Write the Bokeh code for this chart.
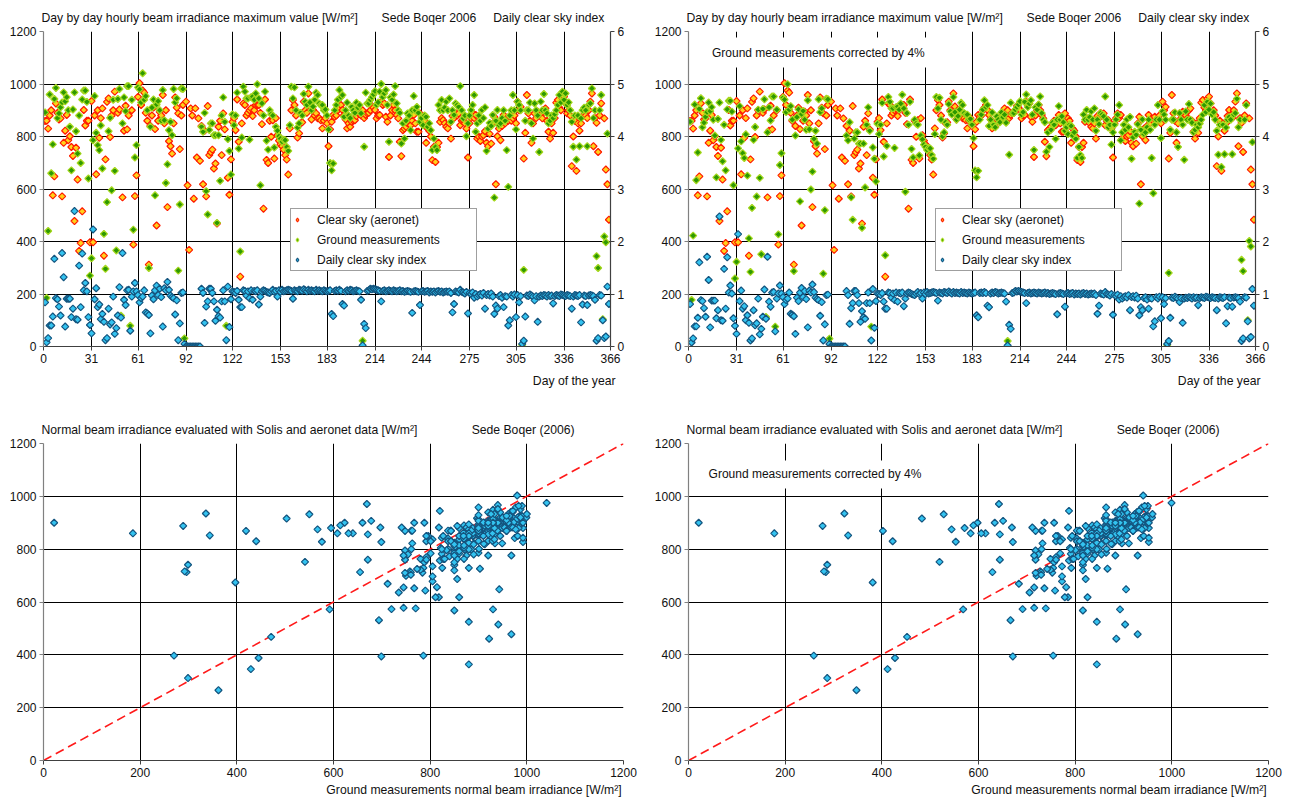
import numpy as np
from bokeh.plotting import figure
from bokeh.models import Range1d, LinearAxis, FixedTicker, Legend, LegendItem, Label
from bokeh.layouts import column, row
from bokeh.embed import file_html
from bokeh.resources import INLINE

nan = float("nan")

# ---------------------------------------------------------------- data
day_ticks = [0, 31, 61, 92, 122, 153, 183, 214, 244, 275, 305, 336, 366]
irr_ticks = [0, 200, 400, 600, 800, 1000, 1200]
index_ticks = [0, 1, 2, 3, 4, 5, 6]
days = list(range(1, 366))
correction = 0.04  # ground measurements corrected by 4 %

# hourly maximum of the modelled clear-sky beam irradiance (Solis + aeronet), W/m2
clear_sky_aeronet = [
    859, 860, 830, 880, 900, 576, 648, 926, 890, 865,
    869, 572, 776, 822, 882, 786, 801, 760, 726, 478,
    757, 636, 364, 394, 515, 901, 842, 860, 860, 397,
    935, 397, 880, 656, 900, 795, 870, 907, 346, 713,
    932, 945, 798, 880, 900, 971, nan, 890, 903, nan,
    568, 822, 917, 827, 880, nan, 900, 388, 573, 652,
    951, 1003, 920, 975, 967, 890, 860, 312, 840, 880,
    910, 828, 461, 860, 894, 880, 958, 850, 900, 531,
    782, 763, 735, 850, 949, 910, 888, 752, 880, 920,
    nan, 933, 614, 368, 907, 880, 563, 907, 720, 869,
    707, 840, 618, 822, 572, 916, 729, 740, 750, 678,
    697, 468, 837, 860, 729, 888, 827, nan, 643, 578,
    713, 856, 870, 824, 941, 780, 266, 850, 926, 920,
    880, 890, 900, 907, 878, 900, 920, 920, 920, 890,
    847, 525, 941, 711, 699, 860, 799, 862, 716, 870,
    805, 784, 770, 763, 750, 729, 712, 655, 831, 900,
    939, 920, 880, 796, 812, 850, 854, 933, 900, 890,
    964, 914, 865, 901, 880, 888, 869, 870, 862, 831,
    860, 870, 850, 763, 827, 856, 882, 875, 880, 900,
    910, 920, 901, 882, 865, 831, 850, 837, 856, 860,
    862, 878, 890, 907, 880, 900, 870, 882, 888, 890,
    900, 916, 910, 901, 869, 880, 882, 933, 920, 926,
    875, 856, 722, 880, 900, 920, 900, 882, 869, 780,
    725, 824, 830, 837, 850, 860, 843, 860, 882, 850,
    818, 818, 888, 850, 869, 860, 776, 830, 822, 800,
    710, 760, 703, 760, 776, 856, 870, 862, 850, 837,
    831, 850, 792, 878, 870, 890, 880, 888, 843, 860,
    862, 850, 830, 720, 850, 870, 888, 870, 882, 792,
    799, 783, 800, 805, 820, 776, 763, 810, 773, 850,
    875, 618, 801, 830, 786, 840, 882, 850, 869, 860,
    875, 860, 869, 880, 850, 933, 900, 913, nan, 716,
    814, 958, 888, 860, 776, 850, 888, 870, 894, 882,
    880, 869, 900, 907, 860, 818, 792, 850, 814, 870,
    929, 939, 910, 900, 945, 952, 926, 888, 900, 880,
    687, 800, 860, 669, 850, 822, 850, 878, 901, 880,
    870, 900, 933, 964, 763, 870, 852, 741, 880, 926,
    nan, 869, 674, 618, 483,
]

# hourly maximum of the measured beam irradiance, W/m2
ground_measured = [
    892, 185, 440, 960, 660, 770, 943, 985, 870, 888,
    911, 930, 968, 934, 950, 900, 837, 671, 903, 968,
    820, 735, 880, 699, 941, 975, 975, 932, 640, 270,
    336, 786, 954, 814, 767, 748, 842, 678, 429, 296,
    550, 820, 871, 595, 940, 669, 366, 943, 981, 117,
    850, 949, 897, 992, 992, 79, 940, 445, 720, 767,
    987, 980, 930, 1041, 940, 954, 900, 299, 837, 910,
    941, 576, 922, 935, 900, 860, 977, 862, 623, 694,
    824, 856, 805, 981, 930, 945, 289, 541, 983, 981,
    31, nan, nan, nan, nan, nan, nan, nan, nan, nan,
    nan, 837, 818, 890, 592, 503, 825, 850, 850, 805,
    805, 471, 805, 631, 880, 949, 856, 79, 790, 745,
    655, 884, 843, 880, 967, 754, 362, 796, 990, 971,
    945, 945, 788, 950, 952, 940, 964, 999, 945, 614,
    926, 880, 971, 784, 750, 900, 885, 880, 758, 837,
    822, 801, 792, 780, 788, 786, 760, 745, 843, 990,
    945, 987, 900, 834, 850, 890, 880, 962, 933, 920,
    990, 930, 900, 914, 940, 967, 958, 926, 920, 920,
    900, 903, 880, 827, 699, 671, 697, 900, 920, 940,
    977, 950, 958, 875, 900, 929, 880, 870, 913, 900,
    890, 929, 910, 920, 888, 22, 761, 967, 926, 926,
    940, 950, 960, 973, 920, 930, 971, 1000, 950, 964,
    977, 920, 780, 949, 940, 960, 992, 926, 900, 890,
    773, 850, 792, 860, 888, 880, 824, 900, 954, 900,
    913, 890, 856, 870, 843, 880, 875, 837, 850, 824,
    748, 792, 760, 748, 920, 900, 939, 900, 910, 933,
    900, 945, 856, 900, 882, 926, 920, 913, 992, 900,
    869, 880, 801, 850, 880, 901, 920, 958, 818, 850,
    880, 860, 901, 870, 911, 745, 830, 852, 840, 882,
    567, 860, 901, 843, 850, 870, 900, 860, 748, 608,
    880, 900, 958, 900, 827, 933, 920, 900, 6, 292,
    860, 900, 900, 929, 850, 792, 926, 900, 880, 741,
    933, 900, 962, 900, 888, 850, 860, 880, 870, 885,
    900, 920, 958, 930, 971, 940, 964, 920, 930, 900,
    856, 761, 880, 712, 880, 763, 869, 900, 910, 900,
    763, 920, 926, 983, 870, 900, 344, 299, 900, 958,
    104, 419, 397, 811, nan,
]

# daily clear sky index (right axis)
clear_sky_index = [
    0.84, 0.08, 0.16, 0.40, 0.40, 0.57, 1.67, 0.92, 0.90, 0.76,
    0.59, 1.78, 1.32, 0.38, 0.91, 0.91, 0.91, 0.56, 0.72, 2.58,
    0.52, 0.51, 1.54, 0.75, 1.77, 1.07, 1.21, 1.05, 0.56, 0.41,
    0.25, 2.23, 0.90, 1.11, 0.75, 0.80, 0.52, 0.62, 0.47, 0.12,
    0.16, 0.72, 0.42, 0.46, 0.95, 0.24, 0.35, 0.59, 1.13, 0.55,
    1.78, 0.89, 0.79, 1.07, 1.08, 0.30, 0.95, 1.05, 1.21, 1.05,
    0.98, 0.84, 0.92, 0.95, 1.07, 0.65, 0.63, 0.60, 0.25, 0.97,
    0.90, 1.07, 1.16, 0.98, 1.10, 0.94, 0.38, 1.11, 1.07, 1.23,
    1.08, 0.97, 0.94, 0.92, 0.61, 0.88, 0.12, 0.44, 1.02, 1.03,
    0.05, 0, 0, 0, 0, 0, 0, 0, 0, 0,
    0, 1.10, 1.02, 0.45, 0.76, 0.86, 1.10, 1.10, 1.02, 0.86,
    0.49, 0.70, 0.58, 0.55, 0.86, 1.07, 0.86, 0.12, 1.14, 0.37,
    0.90, 1.05, 1.04, 1.02, 1.06, 0.89, 0.75, 0.75, 1.07, 1.06,
    0.97, 1.05, 0.92, 1.07, 0.89, 1.06, 1.05, 1.07, 0.80, 0.95,
    1.05, 1.07, 1.06, 1.04, 1.03, 1.02, 1.05, 1.08, 1.04, 1.06,
    0.95, 1.07, 1.04, 1.08, 1.05, 1.06, 1.07, 1.08, 1.07, 1.06,
    0.91, 1.07, 1.06, 1.05, 1.08, 1.07, 1.06, 1.09, 1.07, 1.05,
    1.08, 1.06, 1.07, 1.06, 1.05, 1.08, 1.06, 1.07, 1.06, 1.05,
    1.07, 1.06, 1.05, 1.06, 1.07, 0.62, 0.58, 1.06, 1.07, 1.06,
    1.08, 1.06, 0.81, 0.78, 1.05, 1.07, 1.06, 1.08, 1.07, 1.05,
    1.06, 1.07, 1.06, 1.05, 0.89, 0.02, 0.43, 0.35, 1.06, 1.07,
    1.10, 1.09, 1.10, 1.09, 1.08, 1.07, 1.06, 0.86, 1.06, 1.07,
    1.05, 1.06, 1.07, 1.06, 1.05, 1.07, 1.06, 1.05, 1.06, 1.07,
    1.05, 1.06, 1.04, 1.05, 1.06, 1.05, 1.04, 0.64, 1.05, 1.06,
    1.05, 1.04, 0.79, 1.05, 1.06, 1.04, 1.05, 1.06, 1.03, 1.05,
    1.04, 1.05, 1.03, 1.05, 1.06, 1.04, 1.05, 1.03, 1.04, 1.05,
    1.04, 1.05, 1.02, 0.65, 0.81, 1.05, 1.04, 1.03, 1.08, 1.04,
    1.03, 1.01, 1.04, 0.63, 1.02, 1.00, 1.03, 0.93, 1.00, 0.95,
    0.98, 1.00, 0.97, 1.02, 0.72, 0.98, 1.00, 0.97, 1.01, 0.95,
    0.62, 0.78, 0.72, 0.96, 0.98, 0.93, 0.75, 0.96, 0.95, 0.40,
    0.50, 0.98, 0.95, 0.99, 0.56, 0.98, 0.84, 0.96, 0.05, 0.11,
    0.57, 0.97, 0.96, 0.99, 0.97, 0.95, 0.88, 0.96, 0.47, 0.95,
    0.97, 0.96, 0.98, 0.97, 0.95, 0.98, 0.96, 0.97, 0.82, 0.96,
    0.98, 0.97, 0.96, 0.99, 0.98, 0.97, 0.96, 0.98, 0.97, 0.96,
    0.72, 0.95, 0.98, 0.97, 0.96, 0.98, 0.46, 0.80, 0.97, 0.96,
    0.79, 0.97, 0.98, 0.97, 0.96, 0.89, 0.11, 0.16, 0.98, 0.97,
    0.50, 0.16, 0.19, 1.14, 0.81,
]

assert len(clear_sky_aeronet) == len(ground_measured) == len(clear_sky_index) == len(days)

aeronet = np.array(clear_sky_aeronet, dtype=float)
ground = np.array(ground_measured, dtype=float)
index = np.array(clear_sky_index, dtype=float)
ground_corr = ground * (1 - correction)
index_corr = index * (1 - correction)

# ---------------------------------------------------------------- styles
FONT = "Liberation Sans"
RED = dict(fill_color="#FFD21A", line_color="#FF1A00")
GREEN = dict(fill_color="#2E9900", line_color="#A6D81E")
BLUE = dict(fill_color="#33C3F0", line_color="#14557F")
MARK = dict(marker="square", angle=np.pi / 4, size=5, line_width=1.2)
NOTE = "Ground measurements corrected by 4%"
GAP = "\u00a0"


def style_axis(ax, line_color="#808080"):
    ax.axis_line_color = line_color
    ax.axis_line_width = 1.2
    ax.major_tick_line_color = line_color
    ax.major_tick_out = 4
    ax.major_tick_in = 0
    ax.minor_tick_line_color = None
    ax.major_label_text_font = FONT
    ax.major_label_text_font_size = "12px"
    ax.major_label_text_color = "#111111"
    ax.major_label_standoff = 3
    ax.axis_label_text_font = FONT
    ax.axis_label_text_font_size = "12.2px"
    ax.axis_label_text_font_style = "normal"
    ax.axis_label_text_color = "#111111"


def style_grid(p, xticks, yticks):
    p.xgrid.ticker = FixedTicker(ticks=xticks)
    p.ygrid.ticker = FixedTicker(ticks=yticks)
    for g in (p.xgrid, p.ygrid):
        g.grid_line_color = "black"
        g.grid_line_width = 1
    p.outline_line_color = None


def style_title(p, text, standoff):
    p.title.text = text
    p.title.align = "left"
    p.title.offset = -2
    p.title.standoff = standoff
    p.title.text_font = FONT
    p.title.text_font_size = "12.2px"
    p.title.text_font_style = "normal"
    p.title.text_color = "#111111"


def bottom_axis_label(p, text, lead, standoff):
    # the label is centred on the axis; leading blanks push its visible text to the right end
    ax = p.xaxis[0]
    ax.axis_label = GAP * lead + text
    ax.axis_label_standoff = standoff


def note_label(p, x, y, pad):
    p.add_layout(Label(x=x, y=y, text=NOTE, text_font=FONT, text_font_size="12px",
                       text_align="left", text_baseline="middle", text_color="#111111",
                       background_fill_color="white", padding=pad))


def top_panel(ground_vals, index_vals, note):
    p = figure(width=645, height=400, output_backend="svg", toolbar_location=None,
               x_range=Range1d(0, 366), y_range=Range1d(0, 1200),
               min_border_left=43, min_border_right=35, min_border_top=31, min_border_bottom=54)
    p.extra_y_ranges = {"idx": Range1d(0, 6)}
    style_grid(p, day_ticks, irr_ticks)
    p.xaxis.ticker = FixedTicker(ticks=day_ticks)
    p.yaxis.ticker = FixedTicker(ticks=irr_ticks)
    style_axis(p.xaxis[0], "#404040")
    style_axis(p.yaxis[0])
    bottom_axis_label(p, "Day of the year", 146, 8)
    right = LinearAxis(y_range_name="idx", ticker=FixedTicker(ticks=index_ticks))
    style_axis(right, "#404040")
    p.add_layout(right, "right")

    p.scatter(days, aeronet, **MARK, **RED)
    p.scatter(days, ground_vals, **MARK, **GREEN)
    p.scatter(days, index_vals, y_range_name="idx", **MARK, **BLUE)

    # legend swatches: a single empty point each, so only the key glyph shows
    swatch = dict(marker="diamond", size=9, line_width=1.2)
    k_red = p.scatter(x=[nan], y=[nan], **swatch, **RED)
    k_green = p.scatter(x=[nan], y=[nan], **swatch, **GREEN)
    k_blue = p.scatter(x=[nan], y=[nan], **swatch, **BLUE)
    legend = Legend(items=[LegendItem(label="Clear sky (aeronet)", renderers=[k_red]),
                           LegendItem(label="Ground measurements", renderers=[k_green]),
                           LegendItem(label="Daily clear sky index", renderers=[k_blue])],
                    location=(247, 75), margin=0, padding=1, spacing=1,
                    label_height=19, glyph_height=19, glyph_width=10, label_standoff=15,
                    label_width=158, label_text_font=FONT, label_text_font_size="12px",
                    label_text_color="#111111",
                    border_line_color="#404040", border_line_width=1,
                    background_fill_color="white", background_fill_alpha=1)
    p.add_layout(legend)

    style_title(p, "Day by day hourly beam irradiance maximum value [W/m²]" + GAP * 7
                + "Sede Boqer 2006" + GAP * 5 + "Daily clear sky index", 14)
    if note:
        note_label(p, 10, 1120, 8)
    return p


def bottom_panel(x_vals, note):
    axis_max = irr_ticks[-1]
    p = figure(width=645, height=401, output_backend="svg", toolbar_location=None,
               x_range=Range1d(0, axis_max), y_range=Range1d(0, axis_max),
               min_border_left=43, min_border_right=22, min_border_top=43, min_border_bottom=41)
    style_grid(p, irr_ticks, irr_ticks)
    p.xaxis.ticker = FixedTicker(ticks=irr_ticks)
    p.yaxis.ticker = FixedTicker(ticks=irr_ticks)
    style_axis(p.xaxis[0], "#404040")
    style_axis(p.yaxis[0])
    bottom_axis_label(p, "Ground measurements normal beam irradiance [W/m²]", 83, 3)

    # 1:1 reference line
    p.line([0, axis_max], [0, axis_max], line_color="#FF1A1A", line_width=1.6, line_dash="9 5")
    p.scatter(x_vals, aeronet, **MARK, **BLUE)

    style_title(p, "Normal beam irradiance evaluated with Solis and aeronet data [W/m²]" + GAP * 16
                + "Sede Boqer (2006)", 14)
    if note:
        note_label(p, 27, 1083, 7)
    return p


p1 = top_panel(ground, index, False)
p2 = top_panel(ground_corr, index_corr, True)
p3 = bottom_panel(ground, False)
p4 = bottom_panel(ground_corr, True)

page = column(row(p1, p2), row(p3, p4))
open("out.html", "w").write(file_html(page, INLINE))
